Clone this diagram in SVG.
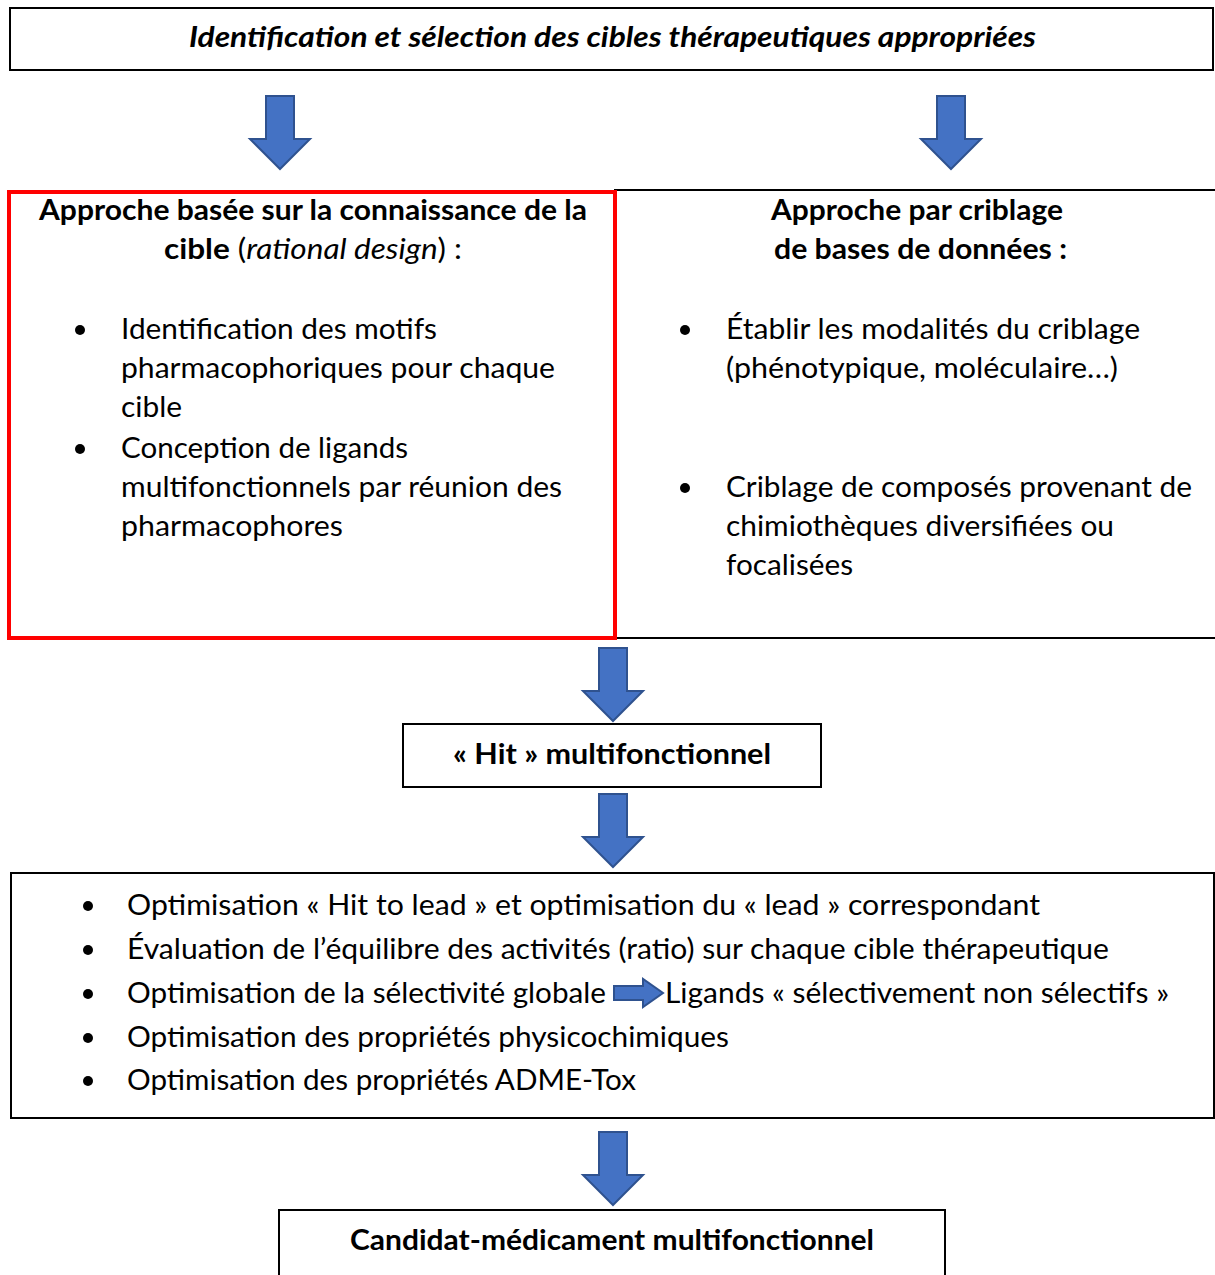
<svg xmlns="http://www.w3.org/2000/svg" width="1215" height="1275" viewBox="0 0 1215 1275">
<style>
text{font-family:Lato,"Open Sans","Liberation Sans",sans-serif;font-size:29px;fill:#000}
.b{font-weight:bold}
.i{font-style:italic}
.box{fill:#fff;stroke:#000;stroke-width:2}
.arr{fill:#4472C4;stroke:#2F528F;stroke-width:2}
.dot{fill:#000}
</style>
<defs>
<path id="down" d="M-14,0 H14 V43 H30 L0,73 L-30,43 H-14 Z"/>
</defs>
<g id="connectors">
<use href="#down" class="arr" x="280" y="96"/>
<use href="#down" class="arr" x="951" y="96"/>
<use href="#down" class="arr" x="613" y="648"/>
<use href="#down" class="arr" x="613" y="794"/>
<use href="#down" class="arr" x="613" y="1132"/>
</g>
<g id="n-top">
<rect class="box" x="10" y="8" width="1203" height="62"/>
<text class="b i" x="189" y="47" textLength="847" lengthAdjust="spacingAndGlyphs">Identification et sélection des cibles thérapeutiques appropriées</text>
</g>
<g id="n-right">
<rect class="box" x="615" y="190" width="602" height="448"/>
<text class="b" x="771" y="220" textLength="292" lengthAdjust="spacingAndGlyphs">Approche par criblage</text>
<text class="b" x="774" y="259" textLength="293" lengthAdjust="spacingAndGlyphs">de bases de données :</text>
<circle class="dot" cx="685" cy="330" r="5"/>
<text x="726" y="339" textLength="414" lengthAdjust="spacingAndGlyphs">Établir les modalités du criblage</text>
<text x="726" y="378" textLength="392" lengthAdjust="spacingAndGlyphs">(phénotypique, moléculaire…)</text>
<circle class="dot" cx="685" cy="488" r="5"/>
<text x="726" y="497" textLength="466" lengthAdjust="spacingAndGlyphs">Criblage de composés provenant de</text>
<text x="726" y="536" textLength="388" lengthAdjust="spacingAndGlyphs">chimiothèques diversifiées ou</text>
<text x="726" y="575" textLength="127" lengthAdjust="spacingAndGlyphs">focalisées</text>
</g>
<g id="n-left">
<rect x="9" y="192" width="606" height="446" fill="#fff" stroke="#FF0000" stroke-width="4"/>
<text class="b" x="39" y="220" textLength="548" lengthAdjust="spacingAndGlyphs">Approche basée sur la connaissance de la</text>
<text x="164" y="259" textLength="298" lengthAdjust="spacingAndGlyphs"><tspan class="b">cible</tspan> (<tspan class="i">rational design</tspan>) :</text>
<circle class="dot" cx="80" cy="330" r="5"/>
<text x="121" y="339" textLength="316" lengthAdjust="spacingAndGlyphs">Identification des motifs</text>
<text x="121" y="378" textLength="434" lengthAdjust="spacingAndGlyphs">pharmacophoriques pour chaque</text>
<text x="121" y="417" textLength="61" lengthAdjust="spacingAndGlyphs">cible</text>
<circle class="dot" cx="80" cy="449" r="5"/>
<text x="121" y="458" textLength="287" lengthAdjust="spacingAndGlyphs">Conception de ligands</text>
<text x="121" y="497" textLength="441" lengthAdjust="spacingAndGlyphs">multifonctionnels par réunion des</text>
<text x="121" y="536" textLength="222" lengthAdjust="spacingAndGlyphs">pharmacophores</text>
</g>
<g id="n-hit">
<rect class="box" x="403" y="724" width="418" height="63"/>
<text class="b" x="453" y="764" textLength="318" lengthAdjust="spacingAndGlyphs">« Hit » multifonctionnel</text>
</g>
<g id="n-optim">
<rect class="box" x="11" y="873" width="1203" height="245"/>
<circle class="dot" cx="88" cy="906" r="5"/>
<text x="127" y="915" textLength="913" lengthAdjust="spacingAndGlyphs">Optimisation « Hit to lead » et optimisation du « lead » correspondant</text>
<circle class="dot" cx="88" cy="950" r="5"/>
<text x="127" y="959" textLength="982" lengthAdjust="spacingAndGlyphs">Évaluation de l’équilibre des activités (ratio) sur chaque cible thérapeutique</text>
<circle class="dot" cx="88" cy="994" r="5"/>
<text x="127" y="1003" textLength="479" lengthAdjust="spacingAndGlyphs">Optimisation de la sélectivité globale</text>
<path class="arr" d="M614,986 H643 V979 L663,993 L643,1007 V1000 H614 Z"/>
<text x="665" y="1003" textLength="504" lengthAdjust="spacingAndGlyphs">Ligands « sélectivement non sélectifs »</text>
<circle class="dot" cx="88" cy="1038" r="5"/>
<text x="127" y="1047" textLength="602" lengthAdjust="spacingAndGlyphs">Optimisation des propriétés physicochimiques</text>
<circle class="dot" cx="88" cy="1081" r="5"/>
<text x="127" y="1090" textLength="509" lengthAdjust="spacingAndGlyphs">Optimisation des propriétés ADME-Tox</text>
</g>
<g id="n-final">
<rect class="box" x="279" y="1210" width="666" height="75"/>
<text class="b" x="350" y="1250" textLength="524" lengthAdjust="spacingAndGlyphs">Candidat-médicament multifonctionnel</text>
</g>
</svg>
